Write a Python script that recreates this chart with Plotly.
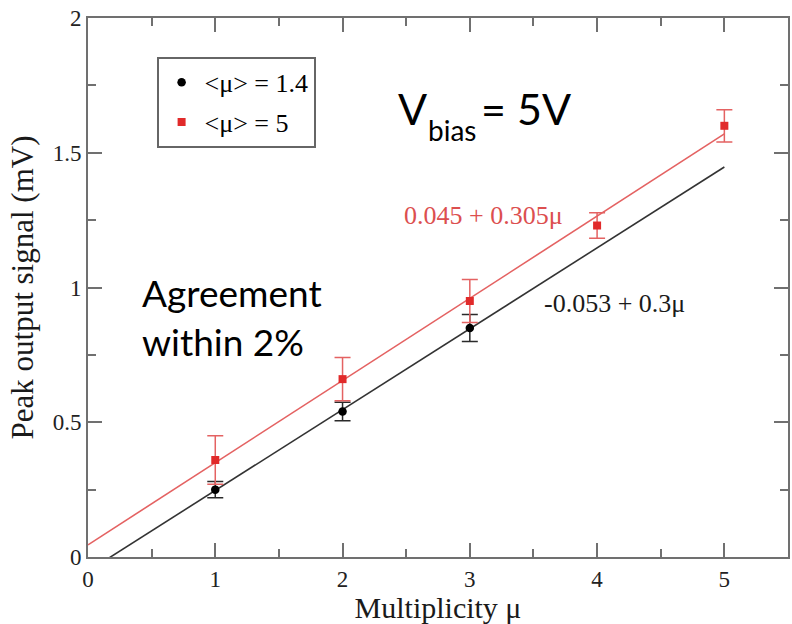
import plotly.graph_objects as go

# Measured peak output signal vs. multiplicity for two mean photon numbers
mult_low = [1, 2, 3]
peak_low = [0.25, 0.54, 0.85]
err_low = [0.03, 0.034, 0.05]

mult_high = [1, 2, 3, 4, 5]
peak_high = [0.36, 0.66, 0.95, 1.23, 1.60]
err_high = [0.09, 0.08, 0.08, 0.047, 0.06]

# Linear fits: intercept + slope * mu
fit_low = [-0.053, 0.3]
fit_high = [0.045, 0.305]
fit_span = [0, 5]

x_tickvals = [0, 1, 2, 3, 4, 5]
x_ticktext = ["0", "1", "2", "3", "4", "5"]
y_tickvals = [0, 0.5, 1, 1.5, 2]
y_ticktext = ["0", "0.5", "1", "1.5", "2"]

SERIF = "Liberation Serif"
SANS = "Lato"
AXIS_GRAY = "#707070"
RED_MARK = "#e12a2a"
RED_LINE = "#e46262"
RED_TEXT = "#dc4f4f"
BLACK_LINE = "#333333"

fig = go.Figure()

# fit lines
fig.add_trace(go.Scatter(
    x=fit_span, y=[fit_high[0] + fit_high[1] * m for m in fit_span],
    mode="lines", line=dict(color=RED_LINE, width=1.6),
    showlegend=False, hoverinfo="skip"))
fig.add_trace(go.Scatter(
    x=fit_span, y=[fit_low[0] + fit_low[1] * m for m in fit_span],
    mode="lines", line=dict(color=BLACK_LINE, width=1.6),
    showlegend=False, hoverinfo="skip"))

# data points
fig.add_trace(go.Scatter(
    x=mult_low, y=peak_low, mode="markers", name="&lt;μ&gt; = 1.4",
    legendgroup="a",
    marker=dict(symbol="circle", size=8.5, color="black"),
    error_y=dict(type="data", array=err_low, color="#2a2a2a",
                 thickness=1.5, width=8)))
fig.add_trace(go.Scatter(
    x=mult_high, y=peak_high, mode="markers", name="&lt;μ&gt; = 5",
    legendgroup="b",
    marker=dict(symbol="square", size=8, color=RED_MARK),
    error_y=dict(type="data", array=err_high, color=RED_LINE,
                 thickness=1.5, width=8)))

def fmt(v):
    return ("%g" % v)

eq_high = f"{fmt(fit_high[0])} + {fmt(fit_high[1])}μ"
eq_low = f"{fmt(fit_low[0])} + {fmt(fit_low[1])}μ"

annotations = [
    dict(x=3.11, y=1.269, text=eq_high, showarrow=False,
         font=dict(family=SERIF, size=26, color=RED_TEXT),
         xanchor="center", yanchor="middle"),
    dict(x=4.137, y=0.939, text=eq_low, showarrow=False,
         font=dict(family=SERIF, size=26, color="#1a1a1a"),
         xanchor="center", yanchor="middle"),
    dict(x=0.41, y=0.980, text="Agreement", showarrow=False,
         font=dict(family=SANS, size=37, color="black"),
         xanchor="left", yanchor="middle"),
    dict(x=0.41, y=0.798, text="within 2%", showarrow=False,
         font=dict(family=SANS, size=37, color="black"),
         xanchor="left", yanchor="middle"),
    dict(x=2.42, y=1.665, text="V", showarrow=False,
         font=dict(family=SANS, size=43, color="black"),
         xanchor="left", yanchor="middle"),
    dict(x=2.655, y=1.583, text="bias", showarrow=False,
         font=dict(family=SANS, size=28, color="black"),
         xanchor="left", yanchor="middle"),
    dict(x=3.81, y=1.665, text="= 5V", showarrow=False,
         font=dict(family=SANS, size=43, color="black"),
         xanchor="right", yanchor="middle"),
]

axis_common = dict(
    showline=True, linecolor=AXIS_GRAY, linewidth=2, mirror="ticks",
    ticks="inside", ticklen=14, tickwidth=2, tickcolor=AXIS_GRAY,
    showgrid=False, zeroline=False,
    tickfont=dict(family=SERIF, size=23, color="#222222"),
)

fig.update_layout(
    width=792, height=624,
    margin=dict(l=88, r=2, t=18, b=67),
    paper_bgcolor="white", plot_bgcolor="white",
    showlegend=True,
    legend=dict(x=0.098, y=0.928, xanchor="left", yanchor="top",
                bgcolor="white", bordercolor="#666666", borderwidth=2,
                font=dict(family=SERIF, size=26, color="black"),
                itemwidth=36, tracegroupgap=3),
    xaxis=dict(range=[0, 5.5], tickvals=x_tickvals, ticktext=x_ticktext,
               minor=dict(dtick=0.5, tick0=0, ticks="inside", ticklen=8,
                          tickwidth=2, tickcolor=AXIS_GRAY),
               title=dict(text="Multiplicity μ", standoff=2,
                          font=dict(family=SERIF, size=30, color="#1a1a1a")),
               **axis_common),
    yaxis=dict(range=[0, 2], tickvals=y_tickvals, ticktext=y_ticktext,
               minor=dict(dtick=0.25, tick0=0, ticks="inside", ticklen=8,
                          tickwidth=2, tickcolor=AXIS_GRAY),
               title=dict(text="Peak output signal (mV)", standoff=10,
                          font=dict(family=SERIF, size=31, color="#1a1a1a")),
               **axis_common),
    annotations=annotations,
)

fig.write_html("out.html")
